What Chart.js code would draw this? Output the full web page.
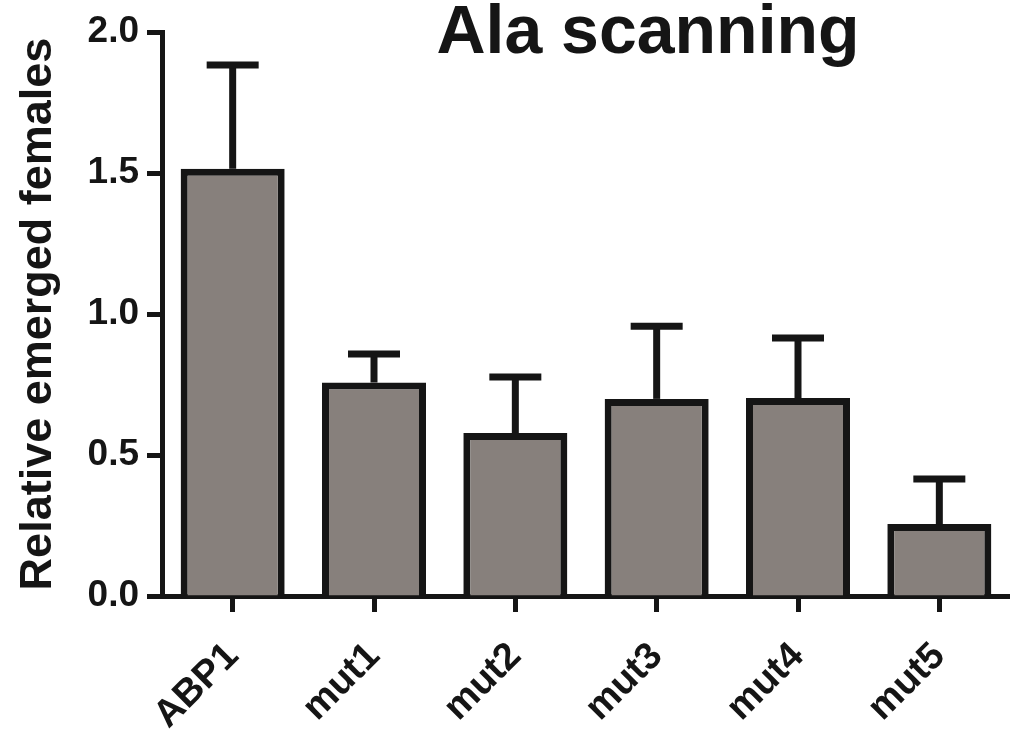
<!DOCTYPE html>
<html>
<head>
<meta charset="utf-8">
<script src="https://cdn.jsdelivr.net/npm/chart.js@4.4.0/dist/chart.umd.min.js"></script>
<style>
  html, body { margin: 0; padding: 0; background: #fff; }
  #wrap { width: 1010px; height: 739px; }
</style>
</head>
<body>
<div id="wrap"><canvas id="chart" width="1010" height="739"></canvas></div>
<script>
// data
const categories = ['ABP1', 'mut1', 'mut2', 'mut3', 'mut4', 'mut5'];
const means = [1.515, 0.757, 0.578, 0.699, 0.702, 0.255];
const errorTops = [1.883, 0.858, 0.777, 0.957, 0.915, 0.415];
const yTicks = [0, 0.5, 1.0, 1.5, 2.0];

const INK = '#151515';
const FONT = 'Liberation Sans, Arial, sans-serif';

// upper error bars with caps
const errorBars = {
  id: 'errorBars',
  afterDatasetsDraw(chart) {
    const { ctx, scales: { x, y } } = chart;
    ctx.save();
    ctx.strokeStyle = INK;
    ctx.lineWidth = 7;
    ctx.lineCap = 'butt';
    errorTops.forEach((top, i) => {
      const px = x.getPixelForValue(i);
      const yBar = y.getPixelForValue(means[i]);
      const yTop = y.getPixelForValue(top);
      ctx.beginPath();
      ctx.moveTo(px, yBar);
      ctx.lineTo(px, yTop);
      ctx.stroke();
      ctx.beginPath();
      ctx.moveTo(px - 26, yTop);
      ctx.lineTo(px + 26, yTop);
      ctx.stroke();
    });
    ctx.restore();
  }
};

// big title that sits over the plot area
const titleText = {
  id: 'titleText',
  afterDraw(chart) {
    const ctx = chart.ctx;
    ctx.save();
    ctx.fillStyle = INK;
    ctx.font = 'bold 68px ' + FONT;
    ctx.textAlign = 'center';
    ctx.textBaseline = 'alphabetic';
    ctx.fillText('Ala scanning', 648, 53);
    ctx.restore();
  }
};

new Chart(document.getElementById('chart'), {
  type: 'bar',
  data: {
    labels: categories,
    datasets: [{
      data: means,
      backgroundColor: '#87807c',
      borderColor: INK,
      borderWidth: 7,
      borderSkipped: 'start',
      barPercentage: 0.736,
      categoryPercentage: 1.0
    }]
  },
  options: {
    responsive: false,
    animation: false,
    layout: { padding: { top: 32, right: 0, left: 0, bottom: 0 } },
    plugins: { legend: { display: false }, tooltip: { enabled: false }, title: { display: false } },
    scales: {
      x: {
        offset: true,
        grid: {
          offset: false,
          drawOnChartArea: false,
          color: INK,
          tickLength: 16,
          tickWidth: 5
        },
        border: { color: INK, width: 5 },
        ticks: {
          color: INK,
          font: { family: FONT, size: 38, weight: 'bold' },
          maxRotation: 45,
          minRotation: 45,
          padding: 22
        },
        afterFit(scale) { scale.height = 143; }
      },
      y: {
        min: 0,
        max: 2.0,
        afterBuildTicks(scale) { scale.ticks = yTicks.map(v => ({ value: v })); },
        grid: {
          drawOnChartArea: false,
          color: INK,
          tickLength: 15,
          tickWidth: 5
        },
        border: { color: INK, width: 5 },
        ticks: {
          color: INK,
          font: { family: FONT, size: 37, weight: 'bold' },
          padding: 8,
          callback: v => Number(v).toFixed(1)
        },
        title: {
          display: true,
          text: 'Relative emerged females',
          color: INK,
          font: { family: FONT, size: 45, weight: 'bold' },
          padding: { top: 12, bottom: 0 }
        },
        afterFit(scale) { scale.width = 162; }
      }
    }
  },
  plugins: [errorBars, titleText]
});
</script>
</body>
</html>
